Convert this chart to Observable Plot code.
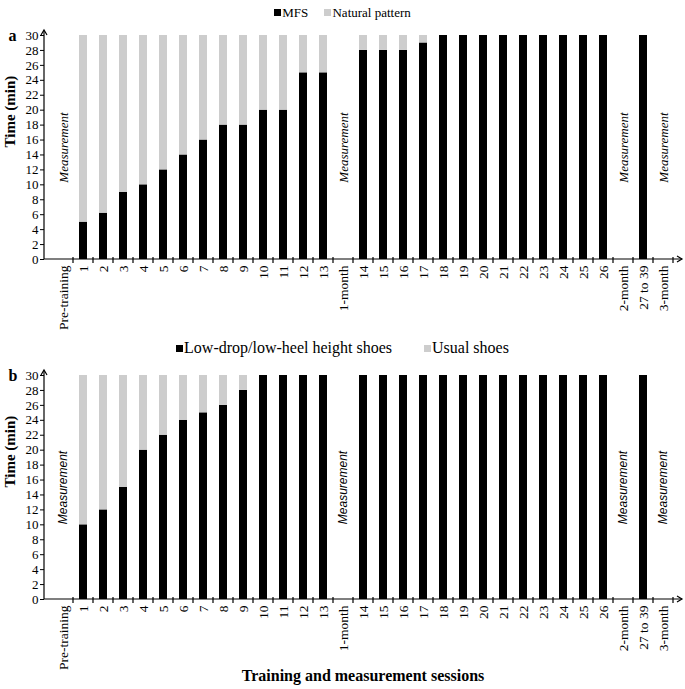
<!DOCTYPE html>
<html><head><meta charset="utf-8">
<script src="https://cdn.jsdelivr.net/npm/d3@7"></script>
<script src="https://cdn.jsdelivr.net/npm/@observablehq/plot@0.6"></script>
<style>
body{margin:0;background:#fff;}
#wrap{position:relative;width:685px;height:689px;font-family:"Liberation Serif",serif;color:#000;}
.abs{position:absolute;}
.leg{left:0;width:685px;text-align:center;white-space:pre;}
.sw{display:inline-block;width:7px;height:7px;margin-right:1px;vertical-align:1px;}
</style></head><body><div id="wrap"></div>
<script>
// ---- data ----
const sessions = ["Pre-training","1","2","3","4","5","6","7","8","9","10","11","12","13","1-month",
  "14","15","16","17","18","19","20","21","22","23","24","25","26","2-month","27 to 39","3-month"];
const measurementSessions = ["Pre-training","1-month","2-month","3-month"];
const trainedSessions = ["1","2","3","4","5","6","7","8","9","10","11","12","13",
  "14","15","16","17","18","19","20","21","22","23","24","25","26","27 to 39"];
// Panel a (minutes)
const mfsA     = [5,6.2,9,10,12,14,16,18,18,20,20,25,25, 28,28,28,29,30,30,30,30,30,30,30,30,30, 30];
const naturalA = [25,23.8,21,20,18,16,14,12,12,10,10,5,5, 2,2,2,1,0,0,0,0,0,0,0,0,0, 0];
// Panel b (minutes)
const lowDropB = [10,12,15,20,22,24,25,26,28,30,30,30,30, 30,30,30,30,30,30,30,30,30,30,30,30,30, 30];
const usualB   = [20,18,15,10,8,6,5,4,2,0,0,0,0, 0,0,0,0,0,0,0,0,0,0,0,0,0, 0];
const yTicks = [0,2,4,6,8,10,12,14,16,18,20,22,24,26,28,30];
const seriesA = ["MFS","Natural pattern"];
const seriesB = ["Low-drop/low-heel height shoes","Usual shoes"];
const colors = ["#000000","#cdcdcd"];

function axesMark(index, scales, values, dims) {
  const x = scales.x;
  const L = dims.marginLeft, R = dims.width - dims.marginRight;
  const T = dims.marginTop, B = dims.height - dims.marginBottom;
  const bw = typeof x.bandwidth === "function" ? x.bandwidth() : (scales.scales && scales.scales.x ? scales.scales.x.bandwidth : 0);
  const step = x(sessions[1]) - x(sessions[0]);
  const g = d3.create("svg:g").attr("stroke", "#000").attr("fill", "none").attr("stroke-width", 1.2);
  g.append("line").attr("x1", L).attr("x2", L).attr("y1", B).attr("y2", T - 4);
  g.append("line").attr("x1", L).attr("x2", R).attr("y1", B).attr("y2", B);
  g.append("path").attr("d", `M${L-3},${T} L${L},${T-5} L${L+3},${T}`);
  g.append("path").attr("d", `M${R-5},${B-3} L${R},${B} L${R-5},${B+3}`);
  for (const s of sessions) {
    const xb = x(s) + bw / 2 + step / 2;
    if (xb > R - 1) continue;
    g.append("line").attr("x1", xb).attr("x2", xb).attr("y1", B - 2).attr("y2", B + 4);
  }
  return g.node();
}

function panel(mainVals, restVals, names, letter, measFont, measSize) {
  const rows = [];
  trainedSessions.forEach((s, i) => rows.push({session: s, type: names[0], value: mainVals[i]}));
  trainedSessions.forEach((s, i) => rows.push({session: s, type: names[1], value: restVals[i]}));
  return Plot.plot({
    width: 685, height: 340,
    marginLeft: 44, marginRight: 3, marginTop: 35, marginBottom: 81,
    style: {fontFamily: "Liberation Serif", fontSize: "12px", color: "#000", background: "transparent"},
    x: {domain: sessions, paddingInner: 0.6, paddingOuter: 0.3, label: null},
    y: {domain: [0, 30], label: null},
    color: {domain: names, range: colors},
    marks: [
      Plot.barY(rows, {x: "session", y: "value", fill: "type"}),
      Plot.axisY({ticks: yTicks, tickSize: 4, tickPadding: 2, fontSize: 13, label: null}),
      Plot.axisX({tickRotate: -90, tickSize: 0, tickPadding: 6, fontSize: 13.5, label: null}),
      axesMark,
      Plot.text(measurementSessions, {x: d => d, text: () => "Measurement", frameAnchor: "middle",
        rotate: -90, fontStyle: "italic", fontFamily: measFont, fontSize: measSize}),
      Plot.text(["Time (min)"], {text: d => d, frameAnchor: "left", rotate: -90, dx: -34,
        fontWeight: "bold", fontSize: 15}),
      Plot.text([letter], {text: d => d, frameAnchor: "top-left", dx: -36, lineAnchor: "middle",
        textAnchor: "start", fontWeight: "bold", fontSize: 16})
    ]
  });
}

const wrap = document.getElementById("wrap");
const a = panel(mfsA, naturalA, seriesA, "a", "Liberation Serif", 13);
a.classList.add("abs"); a.style.top = "0px"; a.style.left = "0px";
wrap.appendChild(a);
const b = panel(lowDropB, usualB, seriesB, "b", "Liberation Sans", 12);
b.classList.add("abs"); b.style.top = "340px"; b.style.left = "0px";
wrap.appendChild(b);

function legend(names, top, size, gap) {
  const div = document.createElement("div");
  div.className = "abs leg";
  div.style.top = top + "px";
  div.style.fontSize = size + "px";
  div.style.lineHeight = (size + 4) + "px";
  names.forEach((n, i) => {
    const sw = document.createElement("span");
    sw.className = "sw"; sw.style.background = colors[i];
    div.appendChild(sw);
    div.appendChild(document.createTextNode(n + (i < names.length - 1 ? gap : "")));
  });
  wrap.appendChild(div);
}
legend(seriesA, 4, 13, "     ");
legend(seriesB, 338, 16, "        ");

const title = document.createElement("div");
title.className = "abs";
title.style.cssText = "left:44px;width:638px;top:666px;text-align:center;font-weight:bold;font-size:16px;line-height:20px;";
title.textContent = "Training and measurement sessions";
wrap.appendChild(title);
</script></body></html>
